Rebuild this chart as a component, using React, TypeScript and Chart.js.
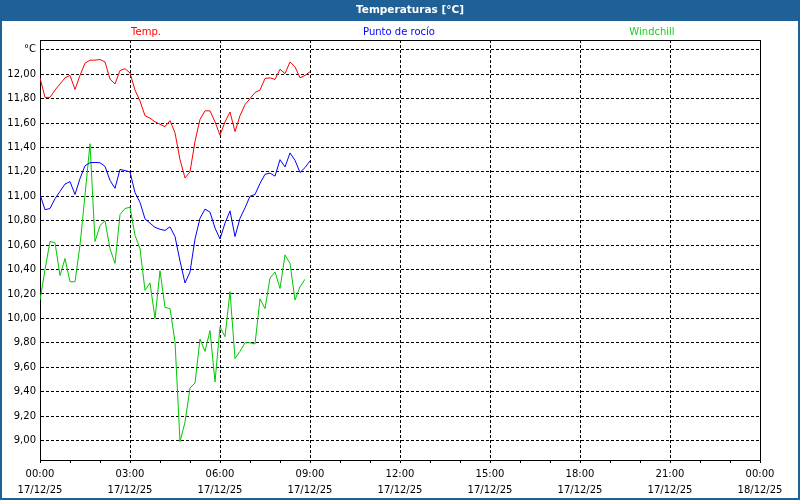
import React, { useEffect, useRef } from "react";
import { Chart, registerables } from "chart.js";

Chart.register(...registerables);

const TITLE = "Temperaturas [°C]";
const UNIT_LABEL = "°C";
const DATE_START = "17/12/25";
const DATE_END = "18/12/25";

const TIME_LABELS = [
  "00:00", "00:10", "00:20", "00:30", "00:40", "00:50",
  "01:00", "01:10", "01:20", "01:30", "01:40", "01:50",
  "02:00", "02:10", "02:20", "02:30", "02:40", "02:50",
  "03:00", "03:10", "03:20", "03:30", "03:40", "03:50",
  "04:00", "04:10", "04:20", "04:30", "04:40", "04:50",
  "05:00", "05:10", "05:20", "05:30", "05:40", "05:50",
  "06:00", "06:10", "06:20", "06:30", "06:40", "06:50",
  "07:00", "07:10", "07:20", "07:30", "07:40", "07:50",
  "08:00", "08:10", "08:20", "08:30", "08:40", "08:50",
  "09:00",
];

const TEMP = [
  11.97, 11.81, 11.81, 11.87, 11.92, 11.97,
  11.99, 11.875, 11.99, 12.09, 12.115, 12.115,
  12.12, 12.1, 11.96, 11.92, 12.03, 12.045,
  12.01, 11.87, 11.78, 11.66, 11.64, 11.61,
  11.59, 11.57, 11.62, 11.52, 11.3, 11.15,
  11.2, 11.45, 11.63, 11.7, 11.7, 11.61,
  11.5, 11.61, 11.69, 11.53, 11.66, 11.75,
  11.8, 11.85, 11.87, 11.965, 11.97, 11.957,
  12.04, 12.005, 12.1, 12.06, 11.97, 11.99,
  12.02,
];

const DEW_POINT = [
  11.015, 10.89, 10.9, 10.98, 11.04, 11.1,
  11.12, 11.015, 11.145, 11.25, 11.275, 11.277,
  11.275, 11.245, 11.13, 11.065, 11.22, 11.21,
  11.2, 11.03, 10.95, 10.815, 10.78, 10.745,
  10.73, 10.72, 10.75, 10.67, 10.47, 10.29,
  10.38, 10.65, 10.82, 10.895, 10.87, 10.74,
  10.65, 10.78, 10.88, 10.67, 10.82, 10.905,
  11.0, 11.015, 11.105, 11.18, 11.19, 11.165,
  11.3, 11.24, 11.355, 11.295, 11.195, 11.235,
  11.29,
];

const WINDCHILL = [
  10.15, 10.4, 10.63, 10.62, 10.35, 10.49,
  10.3, 10.3, 10.6, 11.01, 11.43, 10.63,
  10.76, 10.8, 10.57, 10.45, 10.85, 10.9,
  10.91, 10.68, 10.57, 10.23, 10.29, 10.0,
  10.39, 10.09, 10.08, 9.81, 8.99, 9.15,
  9.43, 9.47, 9.83, 9.73, 9.9, 9.48,
  9.93, 9.85, 10.22, 9.67, 9.73, 9.8,
  9.8, 9.79, 10.16, 10.08, 10.33, 10.38,
  10.245, 10.52, 10.45, 10.15, 10.26, 10.32,
  null,
];

const SERIES_NAMES = ["Temp.", "Punto de rocío", "Windchill"];
const SERIES_COLORS = ["#ff0000", "#0000ff", "#00c800"];
const LEGEND_COLORS = ["#ff0000", "#0000ff", "#22cc22"];

const Y_TICKS = [9.0, 9.2, 9.4, 9.6, 9.8, 10.0, 10.2, 10.4, 10.6, 10.8, 11.0, 11.2, 11.4, 11.6, 11.8, 12.0, 12.2];
const Y_UNIT_TICK = 12.2;
const X_TICKS = [0, 1, 2, 3, 4, 5, 6, 7, 8, 9, 10, 11, 12, 13, 14, 15, 16, 17, 18, 19, 20, 21, 22, 23, 24];
const X_MAJOR_EVERY = 3;

const FONT = "'DejaVu Sans', sans-serif";
const FRAME_BLUE = "#1f6096";

function toHours(t: string): number {
  const [h, m] = t.split(":").map(Number);
  return h + m / 60;
}

function points(values: (number | null)[]) {
  return values.map((v, i) => ({ x: toHours(TIME_LABELS[i]), y: v }));
}

const framePlugin = {
  id: "frame",
  beforeDraw(chart: any) {
    const { ctx, width, height } = chart;
    ctx.save();
    ctx.fillStyle = "#ffffff";
    ctx.fillRect(0, 0, width, height);
    ctx.fillStyle = FRAME_BLUE;
    ctx.fillRect(0, 0, width, 21);
    ctx.fillRect(0, 0, 2, height);
    ctx.fillRect(width - 2, 0, 2, height);
    ctx.fillRect(0, height - 2, width, 2);
    ctx.fillStyle = "#ffffff";
    ctx.font = "bold 10.5px " + FONT;
    ctx.textAlign = "center";
    ctx.textBaseline = "middle";
    ctx.fillText(TITLE, 410, 10.5);
    const legendX = [146, 399, 652];
    ctx.font = "10px " + FONT;
    SERIES_NAMES.forEach((name, i) => {
      ctx.fillStyle = LEGEND_COLORS[i];
      ctx.fillText(name, legendX[i], 32);
    });
    ctx.restore();
  },
  afterDraw(chart: any) {
    const { ctx, chartArea } = chart;
    ctx.save();
    ctx.strokeStyle = "#000000";
    ctx.lineWidth = 1;
    ctx.beginPath();
    ctx.moveTo(chartArea.left, chartArea.top + 0.5);
    ctx.lineTo(chartArea.right + 1, chartArea.top + 0.5);
    ctx.moveTo(chartArea.right + 0.5, chartArea.top);
    ctx.lineTo(chartArea.right + 0.5, chartArea.bottom + 1);
    ctx.stroke();
    ctx.restore();
  },
};

export default function App() {
  const ref = useRef<HTMLCanvasElement | null>(null);

  useEffect(() => {
    if (!ref.current) return;
    Chart.defaults.font.family = FONT;
    Chart.defaults.font.size = 10;
    Chart.defaults.color = "#000000";
    const chart = new Chart(ref.current, {
      type: "line",
      data: {
        datasets: [
          { label: SERIES_NAMES[0], data: points(TEMP) as any, borderColor: SERIES_COLORS[0] },
          { label: SERIES_NAMES[1], data: points(DEW_POINT) as any, borderColor: SERIES_COLORS[1] },
          { label: SERIES_NAMES[2], data: points(WINDCHILL) as any, borderColor: SERIES_COLORS[2] },
        ].map((d) => ({ ...d, borderWidth: 1, pointRadius: 0, tension: 0, fill: false, spanGaps: false })),
      },
      options: {
        responsive: false,
        animation: false,
        devicePixelRatio: 1,
        layout: { padding: { left: 0, top: 40, right: 40, bottom: 0 } },
        plugins: {
          legend: { display: false },
          title: { display: false },
          tooltip: { enabled: false },
        },
        scales: {
          x: {
            type: "linear",
            min: 0,
            max: 24,
            afterBuildTicks: (scale: any) => {
              scale.ticks = X_TICKS.map((v) => ({ value: v }));
            },
            afterFit: (scale: any) => {
              scale.height = 40;
            },
            ticks: {
              autoSkip: false,
              maxRotation: 0,
              minRotation: 0,
              padding: 3,
              font: { size: 10, lineHeight: 1.6 },
              color: "#000000",
              callback: (value: any) => {
                const v = Number(value);
                if (v % X_MAJOR_EVERY !== 0) return "";
                const hh = String(v % 24).padStart(2, "0") + ":00";
                return [hh, v >= 24 ? DATE_END : DATE_START];
              },
            },
            grid: {
              color: (ctx: any) =>
                ctx.tick && ctx.tick.value % X_MAJOR_EVERY === 0 ? "#000000" : "rgba(0,0,0,0)",
              tickColor: "#000000",
              tickLength: 3,
              lineWidth: 1,
            },
            border: { display: true, color: "#000000", width: 1, dash: [3, 2] },
          },
          y: {
            type: "linear",
            min: 8.84,
            max: 12.28,
            afterBuildTicks: (scale: any) => {
              scale.ticks = Y_TICKS.map((v) => ({ value: v }));
            },
            afterFit: (scale: any) => {
              scale.width = 40;
            },
            ticks: {
              padding: 4,
              color: "#000000",
              font: { size: 10 },
              callback: (value: any) => {
                const v = Number(value);
                if (Math.abs(v - Y_UNIT_TICK) < 1e-6) return UNIT_LABEL;
                return v.toFixed(2).replace(".", ",");
              },
            },
            grid: {
              color: "#000000",
              drawTicks: false,
              lineWidth: 1,
            },
            border: { display: true, color: "#000000", width: 1, dash: [3, 2] },
          },
        },
      },
      plugins: [framePlugin],
    });
    return () => chart.destroy();
  }, []);

  return (
    <canvas
      ref={ref}
      width={800}
      height={500}
      style={{ position: "fixed", left: 0, top: 0, width: 800, height: 500 }}
    />
  );
}
